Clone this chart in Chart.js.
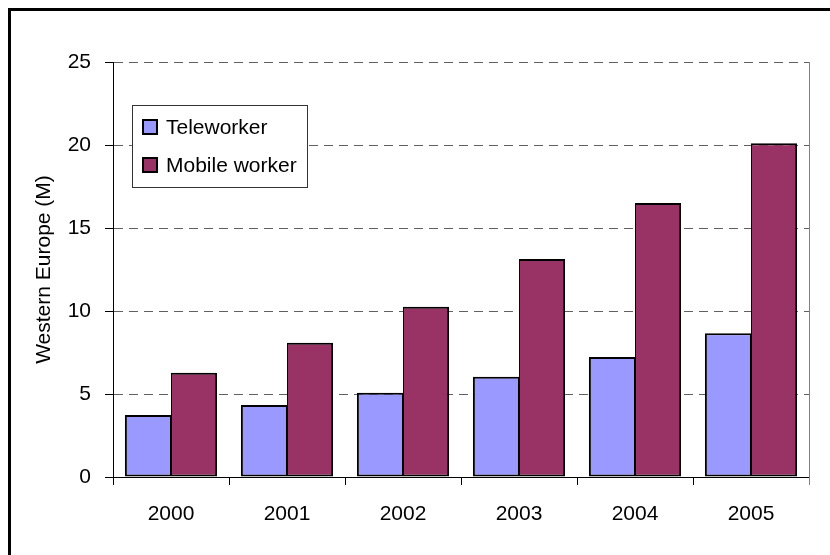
<!DOCTYPE html>
<html>
<head>
<meta charset="utf-8">
<script src="https://cdn.jsdelivr.net/npm/chart.js@4.4.0/dist/chart.umd.min.js"></script>
<style>
  html, body { margin: 0; padding: 0; background: #fff; }
  #wrap { width: 830px; height: 555px; }
</style>
</head>
<body>
<div id="wrap"><canvas id="workChart" width="830" height="555"></canvas></div>
<script>
// -------------------------    Data    -------------------------

var years = ['2000', '2001', '2002', '2003', '2004', '2005'];
var teleworker = [3.73, 4.34, 5.08, 6.04, 7.23, 8.66];
var mobileWorker = [6.28, 8.09, 10.26, 13.13, 16.5, 20.1];
var yTicks = [0, 5, 10, 15, 20, 25];

var FONT = "'Liberation Sans', Arial, sans-serif";
var FONT_SIZE = 21;


// -------------------------    Plugins    -------------------------

// white page with the heavy black frame on the top and left
var framePlugin = {
    id: 'frame',
    beforeDraw: function (chart) {
        var ctx = chart.ctx;
        ctx.save();
        ctx.fillStyle = '#fff';
        ctx.fillRect(0, 0, chart.width, chart.height);
        ctx.strokeStyle = '#000';
        ctx.lineWidth = 3;
        ctx.beginPath();
        ctx.moveTo(9.5, chart.height);
        ctx.lineTo(9.5, 9.5);
        ctx.lineTo(chart.width, 9.5);
        ctx.stroke();
        ctx.restore();
    },
    afterDraw: function (chart) {
        // grey right edge of the plot area
        var a = chart.chartArea;
        var ctx = chart.ctx;
        ctx.save();
        ctx.strokeStyle = '#808080';
        ctx.lineWidth = 1;
        ctx.beginPath();
        ctx.moveTo(Math.round(a.right) + 0.5, a.top);
        ctx.lineTo(Math.round(a.right) + 0.5, a.bottom + 8);
        ctx.stroke();
        ctx.restore();
    }
};

// boxed legend sitting inside the plot area
var boxLegend = {
    id: 'boxLegend',
    afterDraw: function (chart) {
        var a = chart.chartArea;
        var ctx = chart.ctx;
        var x = Math.round(a.left) + 19;
        var y = Math.round(a.top) + 43;
        ctx.save();
        ctx.fillStyle = '#fff';
        ctx.fillRect(x, y, 175, 82);
        ctx.strokeStyle = '#333';
        ctx.lineWidth = 1;
        ctx.strokeRect(x + 0.5, y + 0.5, 175, 82);

        ctx.font = FONT_SIZE + 'px ' + FONT;
        ctx.textBaseline = 'middle';
        chart.data.datasets.forEach(function (ds, i) {
            var cy = y + 22 + i * 38;
            ctx.fillStyle = ds.backgroundColor;
            ctx.fillRect(x + 10, cy - 8, 16, 16);
            ctx.strokeStyle = '#000';
            ctx.lineWidth = 2;
            ctx.strokeRect(x + 11, cy - 7, 14, 14);
            ctx.fillStyle = '#000';
            ctx.fillText(ds.label, x + 34, cy + 1);
        });
        ctx.restore();
    }
};


// -------------------------    Chart Setup    -------------------------

var ctx = document.getElementById('workChart').getContext('2d');
var workChart = new Chart(ctx, {
    type: 'bar',
    data: {
        labels: years,
        datasets: [
            {
                label: 'Teleworker',
                data: teleworker,
                backgroundColor: '#9999FF',
                borderColor: '#000',
                borderWidth: { left: 2, top: 2, right: 1, bottom: 2 },
                borderSkipped: false,
            },
            {
                label: 'Mobile worker',
                data: mobileWorker,
                backgroundColor: '#993366',
                borderColor: '#000',
                borderWidth: { left: 1, top: 2, right: 2, bottom: 2 },
                borderSkipped: false,
            }
        ]
    },
    options: {
        responsive: false,
        animation: false,
        layout: {
            padding: { left: 0, top: 62, right: 21, bottom: 0 }
        },
        datasets: {
            bar: {
                categoryPercentage: 0.795,
                barPercentage: 1.0,
            }
        },
        plugins: {
            legend: { display: false },
            tooltip: { enabled: false },
        },
        scales: {
            x: {
                grid: {
                    offset: true,
                    drawOnChartArea: false,
                    tickLength: 8,
                    tickColor: '#000',
                },
                border: { color: '#000', width: 1 },
                ticks: {
                    color: '#000',
                    padding: 17,
                    font: { family: FONT, size: FONT_SIZE },
                },
                afterFit: function (scale) { scale.height = 78; }
            },
            y: {
                min: yTicks[0],
                max: yTicks[yTicks.length - 1],
                grid: {
                    color: '#606060',
                    lineWidth: 1,
                    tickLength: 8,
                    tickColor: '#000',
                    tickBorderDash: [],
                },
                border: { color: '#000', width: 1, dash: [9, 6] },
                ticks: {
                    stepSize: yTicks[1] - yTicks[0],
                    color: '#000',
                    padding: 14,
                    font: { family: FONT, size: FONT_SIZE },
                },
                title: {
                    display: true,
                    text: 'Western Europe (M)',
                    color: '#000',
                    padding: { top: 32, bottom: 0 },
                    font: { family: FONT, size: FONT_SIZE },
                },
                afterFit: function (scale) { scale.width = 113; }
            }
        }
    },
    plugins: [framePlugin, boxLegend]
});
</script>
</body>
</html>
